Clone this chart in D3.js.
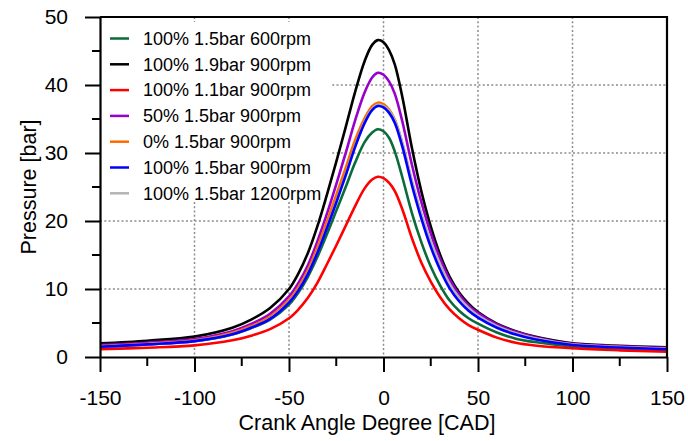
<!DOCTYPE html>
<html lang="en">
<head>
  <meta charset="UTF-8">
  <title>Pressure vs Crank Angle</title>
  <script src="https://d3js.org/d3.v7.min.js"></script>
  <style>
    body { margin: 0; background: #fff; }
    text { font-family: "Liberation Sans", Arial, sans-serif; fill: #000; }
  </style>
</head>
<body>
  <svg width="688" height="441"></svg>
<script>
  // crank angle sample points [CAD]
  const angles = [-150, -125, -100, -80, -70, -60, -50, -45, -40, -35, -30, -25, -20, -15, -10, -6, -3,
    0, 3, 6, 10, 15, 20, 25, 30, 35, 40, 45, 50, 60, 70, 80, 100, 125, 150];

  // pressure [bar]
  const p600 = [1.5, 1.85, 2.32, 3.3, 4.25, 5.5, 7.7, 9.5, 11.8, 14.7, 18.0, 21.5, 25.0, 28.6, 31.6, 33.0, 33.5,
    33.2, 32.2, 30.2, 26.4, 21.2, 16.9, 13.3, 10.5, 8.3, 6.8, 5.7, 4.9, 3.6, 2.7, 2.2, 1.55, 1.22, 1.0];
  const p19bar = [2.0, 2.4, 3.0, 4.3, 5.5, 7.2, 10.0, 12.3, 15.3, 19.2, 23.8, 28.7, 33.8, 39.0, 43.5, 45.9, 46.6,
    46.3, 45.1, 43.0, 38.2, 30.8, 24.4, 19.2, 15.0, 11.8, 9.5, 7.85, 6.6, 4.9, 3.8, 3.0, 2.0, 1.65, 1.43];
  const p11bar = [1.14, 1.37, 1.71, 2.45, 3.14, 4.1, 5.7, 7.0, 8.7, 10.9, 13.6, 16.4, 19.3, 22.2, 24.8, 26.1, 26.5,
    26.3, 25.6, 24.4, 21.7, 17.5, 13.9, 11.1, 8.8, 7.0, 5.7, 4.7, 4.0, 2.85, 2.1, 1.7, 1.28, 0.98, 0.78];
  const p50 = [1.75, 2.1, 2.65, 3.8, 4.85, 6.35, 8.9, 10.9, 13.5, 17.0, 21.0, 25.4, 30.0, 34.8, 38.9, 41.1, 41.8,
    41.5, 40.5, 38.7, 34.6, 28.3, 22.8, 18.2, 14.4, 11.4, 9.2, 7.6, 6.45, 4.8, 3.7, 2.92, 1.95, 1.58, 1.35];
  const p0 = [1.6, 1.95, 2.45, 3.55, 4.55, 5.95, 8.4, 10.3, 12.8, 16.1, 19.9, 23.8, 27.8, 31.9, 35.1, 36.9, 37.4,
    37.2, 36.4, 34.9, 31.4, 25.8, 20.9, 16.7, 13.3, 10.5, 8.5, 7.05, 6.0, 4.45, 3.45, 2.7, 1.82, 1.45, 1.2];
  const p900 = [1.5, 1.85, 2.34, 3.35, 4.3, 5.6, 8.0, 9.8, 12.2, 15.3, 18.9, 22.7, 26.7, 30.9, 34.4, 36.3, 36.9,
    36.7, 35.9, 34.4, 30.9, 25.3, 20.4, 16.2, 12.8, 10.1, 8.2, 6.8, 5.8, 4.3, 3.3, 2.6, 1.76, 1.4, 1.15];
  const p1200 = [1.55, 1.88, 2.36, 3.38, 4.32, 5.65, 8.05, 9.85, 12.3, 15.4, 19.0, 22.8, 26.8, 31.0, 34.6, 36.5, 37.1,
    36.9, 36.2, 34.8, 31.4, 25.9, 21.1, 17.0, 13.6, 10.7, 8.7, 7.2, 6.1, 4.55, 3.5, 2.75, 1.85, 1.48, 1.22];

  const seriesNames = ["100% 1.5bar 600rpm", "100% 1.9bar 900rpm", "100% 1.1bar 900rpm", "50% 1.5bar 900rpm",
    "0% 1.5bar 900rpm", "100% 1.5bar 900rpm", "100% 1.5bar 1200rpm"];
  const seriesValues = [p600, p19bar, p11bar, p50, p0, p900, p1200];
  const seriesColors = ["#0b6b3a", "#000000", "#ff0000", "#9900cc", "#ff6a00", "#0000ff", "#b4b4b4"];
  // grey is drawn under the blue one
  const drawOrder = [0, 1, 2, 3, 4, 6, 5];

  const xTicks = [-150, -100, -50, 0, 50, 100, 150];
  const xMinor = [-125, -75, -25, 25, 75, 125];
  const yTicks = [0, 10, 20, 30, 40, 50];
  const yMinor = [5, 15, 25, 35, 45];
  const xGrid = [-100, -50, 0, 50, 100];
  const yGrid = [10, 20, 30, 40];

  const svg = d3.select("svg");
  const margin = { left: 100, top: 17, right: 21, bottom: 84 };
  const innerWidth = svg.attr("width") - margin.left - margin.right;
  const innerHeight = svg.attr("height") - margin.top - margin.bottom;

  const g = svg.append("g")
    .attr("transform", "translate(" + margin.left + "," + margin.top + ")");

  const xScale = d3.scaleLinear().domain([-150, 150]).range([0, innerWidth]);
  const yScale = d3.scaleLinear().domain([0, 50]).range([innerHeight, 0]);

  // grid
  g.append("g").selectAll("line").data(xGrid).enter().append("line")
    .attr("x1", d => xScale(d)).attr("x2", d => xScale(d))
    .attr("y1", 0).attr("y2", innerHeight)
    .attr("stroke", "#8c8c8c").attr("stroke-width", 1.5).attr("stroke-dasharray", "2,2.3");
  g.append("g").selectAll("line").data(yGrid).enter().append("line")
    .attr("y1", d => yScale(d)).attr("y2", d => yScale(d))
    .attr("x1", 0).attr("x2", innerWidth)
    .attr("stroke", "#8c8c8c").attr("stroke-width", 1.5).attr("stroke-dasharray", "2,2.3");

  // legend box
  const legend = g.append("g").attr("transform", "translate(1,5)");
  legend.append("rect").attr("width", 229).attr("height", 180).attr("fill", "#fff");
  const rows = legend.selectAll("g.row").data(seriesNames).enter().append("g")
    .attr("class", "row")
    .attr("transform", (d, i) => "translate(0," + (16.5 + i * 25.8) + ")");
  rows.append("line")
    .attr("x1", 9).attr("x2", 28)
    .attr("stroke", (d, i) => seriesColors[i]).attr("stroke-width", 2.5);
  rows.append("text")
    .attr("x", 42).attr("dy", "0.35em")
    .attr("font-size", "18px")
    .text(d => d);

  // curves
  const line = d3.line()
    .x((d, i) => xScale(angles[i]))
    .y(d => yScale(d))
    .curve(d3.curveCatmullRom.alpha(0.5));

  g.append("g").selectAll("path").data(drawOrder).enter().append("path")
    .attr("d", k => line(seriesValues[k]))
    .attr("fill", "none")
    .attr("stroke", k => seriesColors[k])
    .attr("stroke-width", 2.6);

  // axes
  const fmt = d => String(d);
  const xAxis = g.append("g")
    .attr("transform", "translate(0," + innerHeight + ")")
    .call(d3.axisBottom(xScale).tickValues(xTicks).tickFormat(fmt).tickSize(15).tickSizeOuter(0).tickPadding(18));
  xAxis.append("g").selectAll("line").data(xMinor).enter().append("line")
    .attr("x1", d => xScale(d)).attr("x2", d => xScale(d))
    .attr("y1", 0).attr("y2", 9).attr("stroke", "#000").attr("stroke-width", 2);

  const yAxis = g.append("g")
    .call(d3.axisLeft(yScale).tickValues(yTicks).tickFormat(fmt).tickSize(15).tickSizeOuter(0).tickPadding(17));
  yAxis.append("g").selectAll("line").data(yMinor).enter().append("line")
    .attr("y1", d => yScale(d)).attr("y2", d => yScale(d))
    .attr("x1", 0).attr("x2", -8).attr("stroke", "#000").attr("stroke-width", 2);

  g.selectAll(".domain").attr("stroke-width", 2.2);
  g.selectAll(".tick line").attr("stroke-width", 2);
  g.selectAll(".tick text").attr("font-size", "21px").attr("font-family", "Liberation Sans, Arial, sans-serif");

  // frame top + right
  g.append("path")
    .attr("d", "M0,0H" + innerWidth + "V" + innerHeight)
    .attr("fill", "none").attr("stroke", "#000").attr("stroke-width", 2.2);

  // axis titles
  svg.append("text")
    .attr("x", 367).attr("y", 430)
    .attr("text-anchor", "middle").attr("font-size", "21.5px")
    .text("Crank Angle Degree [CAD]");
  svg.append("text")
    .attr("transform", "translate(36,187) rotate(-90)")
    .attr("text-anchor", "middle").attr("font-size", "21.5px")
    .text("Pressure [bar]");
</script>
</body>
</html>
